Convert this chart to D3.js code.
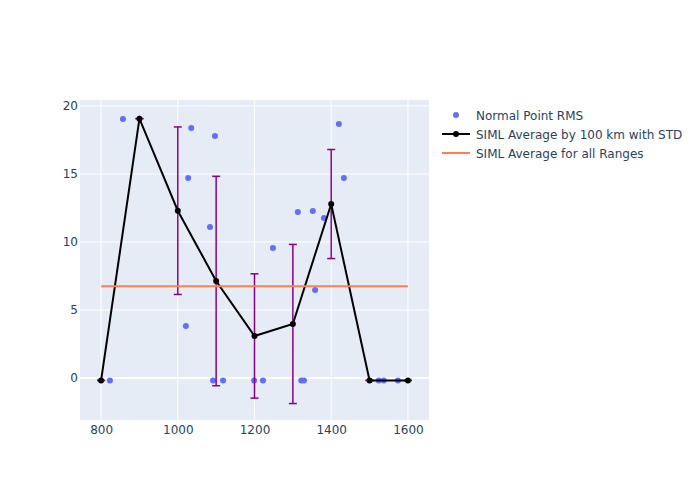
<!DOCTYPE html>
<html>
<head>
<meta charset="utf-8">
<script src="https://cdn.jsdelivr.net/npm/d3@7"></script>
<style>
  body { margin: 0; background: #fff; }
  text { font-family: "DejaVu Sans", Verdana, sans-serif; }
</style>
</head>
<body>
<div id="chart"></div>
<script>
// normal point RMS scatter
const npX = [823, 857, 1021, 1027, 1035, 1084, 1092, 1097, 1118, 1199, 1222, 1248, 1313, 1322, 1329, 1352, 1358, 1381, 1420, 1433, 1524, 1537, 1574];
const npY = [-0.18, 19.04, 3.82, 14.7, 18.38, 11.1, -0.18, 17.8, -0.18, -0.18, -0.18, 9.56, 12.2, -0.18, -0.18, 12.28, 6.47, 11.76, 18.68, 14.7, -0.18, -0.18, -0.18];

// average by 100 km with std
const avgX = [800, 900, 1000, 1100, 1200, 1300, 1400, 1500, 1600];
const avgY = [-0.18, 19.07, 12.3, 7.13, 3.09, 3.97, 12.79, -0.18, -0.18];
const avgStd = [0, 0, 6.16, 7.7, 4.57, 5.85, 4.01, 0, 0];

// average for all ranges
const allX = [800, 1600];
const allY = [6.74, 6.74];

const xTicks = [800, 1000, 1200, 1400, 1600];
const yTicks = [0, 5, 10, 15, 20];
const legendLabels = ['Normal Point RMS', 'SIML Average by 100 km with STD', 'SIML Average for all Ranges'];

const W = 700, H = 500;
const m = {l: 80, t: 100, r: 271, b: 80};
const pw = W - m.l - m.r, ph = H - m.t - m.b;
const txt = '#2a3f5f';

const svg = d3.select('#chart').append('svg').attr('width', W).attr('height', H);

const x = d3.scaleLinear().domain([745, 1655]).range([m.l, m.l + pw]);
const y = d3.scaleLinear().domain([-3.09, 20.44]).range([m.t + ph, m.t]);

svg.append('rect')
.attr('x', m.l).attr('y', m.t).attr('width', pw).attr('height', ph)
.style('fill', '#e5ecf6');

// grid
svg.append('g').selectAll('line').data(xTicks).join('line')
.attr('x1', d => x(d)).attr('x2', d => x(d))
.attr('y1', m.t).attr('y2', m.t + ph)
.style('stroke', '#fff').style('stroke-width', 1);
svg.append('g').selectAll('line').data(yTicks).join('line')
.attr('x1', m.l).attr('x2', m.l + pw)
.attr('y1', d => y(d)).attr('y2', d => y(d))
.style('stroke', '#fff').style('stroke-width', d => d === 0 ? 2 : 1);

// axes
const xAxis = svg.append('g').attr('transform', `translate(0,${m.t + ph})`)
.call(d3.axisBottom(x).tickValues(xTicks).tickFormat(d3.format('d')).tickSize(0).tickPadding(5));
const yAxis = svg.append('g').attr('transform', `translate(${m.l},0)`)
.call(d3.axisLeft(y).tickValues(yTicks).tickSize(0).tickPadding(2));
[xAxis, yAxis].forEach(a => {
    a.select('.domain').remove();
    a.selectAll('text').style('font-size', '12px').style('fill', txt)
    .style('font-family', '"DejaVu Sans", Verdana, sans-serif');
});

// clip for plot area
svg.append('clipPath').attr('id', 'clip').append('rect')
.attr('x', m.l).attr('y', m.t).attr('width', pw).attr('height', ph);
const plot = svg.append('g').attr('clip-path', 'url(#clip)');

// scatter
plot.append('g').selectAll('circle').data(npX).join('circle')
.attr('cx', d => x(d)).attr('cy', (d, i) => y(npY[i])).attr('r', 3)
.style('fill', '#636efa');

// error bars
const eb = plot.append('g').style('stroke', '#8b008b').style('stroke-width', 1.5);
avgX.forEach((d, i) => {
    const top = y(avgY[i] + avgStd[i]), bot = y(avgY[i] - avgStd[i]);
    eb.append('line').attr('x1', x(d)).attr('x2', x(d)).attr('y1', top).attr('y2', bot);
    eb.append('line').attr('x1', x(d) - 4).attr('x2', x(d) + 4).attr('y1', top).attr('y2', top);
    eb.append('line').attr('x1', x(d) - 4).attr('x2', x(d) + 4).attr('y1', bot).attr('y2', bot);
});

// average line
const line = d3.line().x(d => x(d[0])).y(d => y(d[1]));
plot.append('path').datum(avgX.map((d, i) => [d, avgY[i]]))
.attr('d', line).style('fill', 'none').style('stroke', '#000').style('stroke-width', 2);
plot.append('g').selectAll('circle').data(avgX).join('circle')
.attr('cx', d => x(d)).attr('cy', (d, i) => y(avgY[i])).attr('r', 3)
.style('fill', '#000');

// all ranges line
plot.append('path').datum(allX.map((d, i) => [d, allY[i]]))
.attr('d', line).style('fill', 'none').style('stroke', '#ff7f50').style('stroke-width', 2);

// legend
const lg = svg.append('g').attr('transform', 'translate(442,115)');
legendLabels.forEach((lab, i) => {
    const g = lg.append('g').attr('transform', `translate(0,${i * 19})`);
    if (i === 0) {
        g.append('circle').attr('cx', 14).attr('cy', 0).attr('r', 3).style('fill', '#636efa');
    } else if (i === 1) {
        g.append('line').attr('x1', 0).attr('x2', 28).style('stroke', '#000').style('stroke-width', 2);
        g.append('circle').attr('cx', 14).attr('cy', 0).attr('r', 3).style('fill', '#000');
    } else {
        g.append('line').attr('x1', 0).attr('x2', 28).style('stroke', '#ff7f50').style('stroke-width', 2);
    }
    g.append('text').attr('x', 34).attr('y', 4.5).text(lab)
    .style('font-size', '12px').style('fill', txt);
});
</script>
</body>
</html>
